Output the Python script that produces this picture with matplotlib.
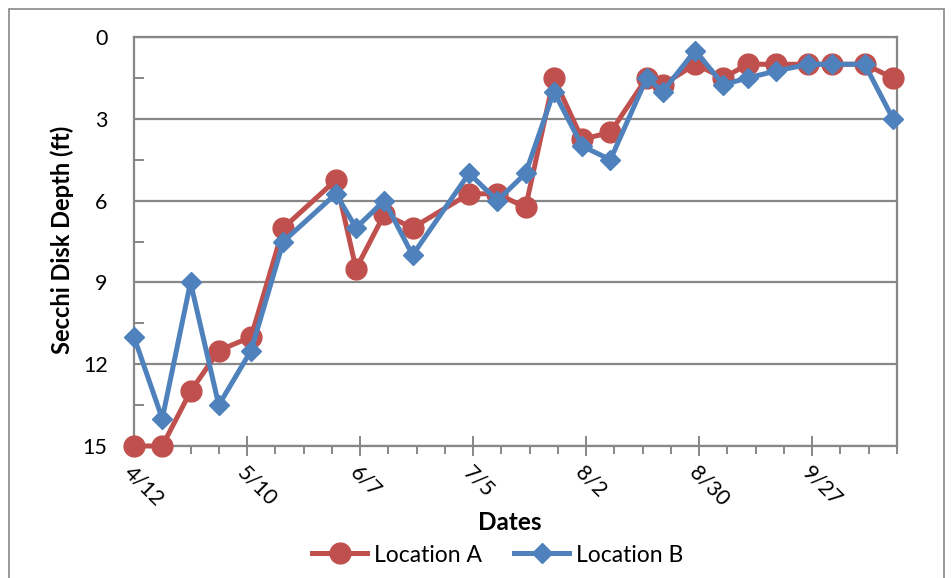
import matplotlib
matplotlib.use("Agg")
import matplotlib.pyplot as plt
from matplotlib.patches import Rectangle
import pandas as pd

plt.rcParams['font.family'] = ['Lato', 'DejaVu Sans']

dates = ["4/12", "4/19", "4/26", "5/3", "5/11", "5/19", "6/1", "6/6", "6/13", "6/20",
         "7/4", "7/11", "7/18", "7/25", "8/1", "8/8", "8/17", "8/21", "8/29", "9/5",
         "9/11", "9/18", "9/26", "10/2", "10/10", "10/17"]
loc_a = [15, 15, 13, 11.5, 11, 7, 5.25, 8.5, 6.5, 7,
         5.75, 5.75, 6.25, 1.5, 3.75, 3.5, 1.5, 1.75, 1, 1.5,
         1, 1, 1, 1, 1, 1.5]
loc_b = [11, 14, 9, 13.5, 11.5, 7.5, 5.75, 7, 6, 8,
         5, 6, 5, 2, 4, 4.5, 1.5, 2, 0.5, 1.75,
         1.5, 1.25, 1, 1, 1, 3]
tick_labels = ["4/12", "5/10", "6/7", "7/5", "8/2", "8/30", "9/27"]
y_ticks = [0, 3, 6, 9, 12, 15]

YEAR = 2010
x = pd.to_datetime([f"{YEAR}/{d}" for d in dates], format="%Y/%m/%d")
xt = pd.to_datetime([f"{YEAR}/{d}" for d in tick_labels], format="%Y/%m/%d")

W, H = 953, 578
fig = plt.figure(figsize=(W / 100, H / 100), dpi=100)
ax = fig.add_axes([134 / W, 1 - 446 / H, (897 - 134) / W, (446 - 37) / H])

red = "#C0504D"
blue = "#4F81BD"
grid_c = "#878787"

ax.plot(x, loc_a, color=red, lw=3.6, marker="o", ms=15, label="Location A",
        zorder=3, clip_on=False)
ax.plot(x, loc_b, color=blue, lw=3.6, marker="D", ms=10.5, label="Location B",
        zorder=4, clip_on=False)

ax.set_xlim(x[0], x[-1] + pd.Timedelta(days=0.5))
ax.set_ylim(15, 0)

ax.set_yticks(y_ticks)
ax.set_yticks([v + 1.5 for v in y_ticks[:-1]], minor=True)
ax.yaxis.grid(True, which="major", color=grid_c, lw=1.6)
ax.set_axisbelow(True)

ax.set_xticks(xt)
ax.set_xticklabels(tick_labels)
minor_days = pd.date_range(x[0], x[-1] + pd.Timedelta(days=1), freq="7D")
ax.set_xticks(minor_days, minor=True)

for s in ax.spines.values():
    s.set_color(grid_c)
    s.set_linewidth(1.6)

ax.tick_params(axis="y", which="both", direction="in", length=7, width=1.4,
               color=grid_c, pad=19, labelsize=15.5)
ax.tick_params(axis="x", which="major", direction="inout", length=14, width=1.4,
               color=grid_c, pad=5, labelsize=15.5)
ax.tick_params(axis="x", which="minor", direction="out", length=6, width=1.4, color=grid_c)
for lbl in ax.get_xticklabels():
    lbl.set_rotation(-45)
    lbl.set_ha("left")
    lbl.set_va("top")
    lbl.set_rotation_mode("anchor")

ax.set_ylabel("Secchi Disk Depth (ft)", fontsize=17, fontweight="bold",
              va="center", ha="center")
ax.yaxis.set_label_coords((62 - 134) / (897 - 134), (446 - 240) / (446 - 37))
ax.set_xlabel("Dates", fontsize=17.5, fontweight="bold", va="center", ha="center")
ax.xaxis.set_label_coords((510 - 134) / (897 - 134), (446 - 523) / (446 - 37))

leg = fig.legend(*ax.get_legend_handles_labels(), loc="center",
                 bbox_to_anchor=(498 / W, 1 - 555 / H), ncol=2,
                 frameon=False, fontsize=16.5, handlelength=2.4, columnspacing=1.4,
                 handletextpad=0.3, borderpad=0, borderaxespad=0)

fig.patches.append(Rectangle((9 / W, -0.05), (944 - 9) / W, 1.05 - 9 / H,
                             transform=fig.transFigure, fill=False,
                             edgecolor="#888888", lw=1.2))

fig.savefig("out.png", dpi=100)
